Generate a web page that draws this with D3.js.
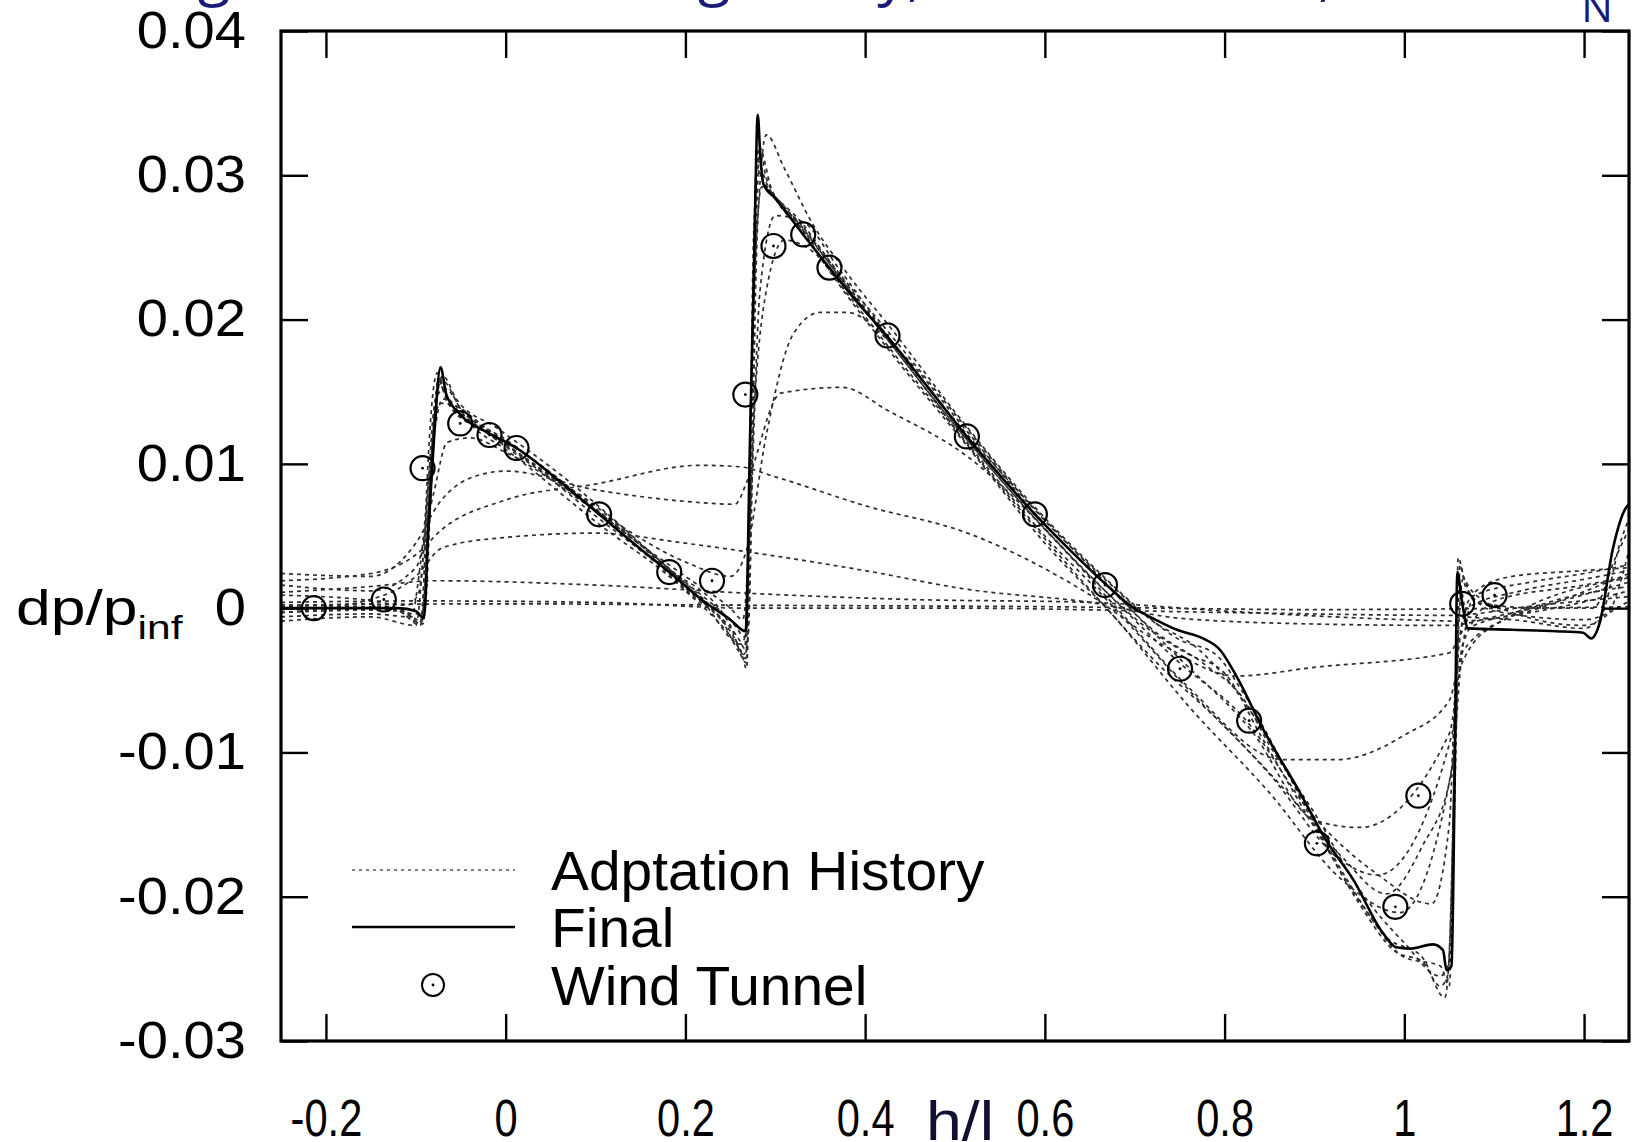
<!DOCTYPE html>
<html>
<head>
<meta charset="utf-8">
<script src="https://cdn.jsdelivr.net/npm/d3@7"></script>
<style>
body { margin: 0; background: #fff; }
svg { display: block; }
</style>
</head>
<body>
<script>
// tick values
var xTicks = [-0.2, 0, 0.2, 0.4, 0.6, 0.8, 1, 1.2];
var yTicks = [-0.03, -0.02, -0.01, 0, 0.01, 0.02, 0.03, 0.04];

// final design signature, [h/l, dp/pinf]
var finalCurve = [
    [-0.25, 0.0], [-0.2, 0.0], [-0.12, 0.0], [-0.1, -0.0002], [-0.091, -0.0007],
    [-0.086, 0.0055], [-0.08, 0.0115], [-0.0725, 0.0167], [-0.066, 0.0148], [-0.05, 0.0134],
    [-0.018, 0.0121], [0.012, 0.0111], [0.06, 0.0088], [0.104, 0.0065], [0.15, 0.0041],
    [0.182, 0.0025], [0.22, 0.0005], [0.25, -0.0008], [0.267, -0.0016], [0.272, 0.012],
    [0.2765, 0.024], [0.2805, 0.0342], [0.2835, 0.0312], [0.2868, 0.0294], [0.30, 0.0284],
    [0.331, 0.0259], [0.36, 0.0236], [0.39, 0.0213], [0.425, 0.0188], [0.47, 0.0153],
    [0.513, 0.0119], [0.55, 0.0092], [0.589, 0.0065], [0.63, 0.0039], [0.667, 0.0017],
    [0.699, 0.0], [0.717, -0.0006], [0.747, -0.0015], [0.776, -0.0021], [0.795, -0.0029],
    [0.813, -0.0047], [0.843, -0.0084], [0.884, -0.0128], [0.913, -0.0161], [0.943, -0.0188],
    [0.976, -0.0225], [0.991, -0.0235], [1.006, -0.0236], [1.032, -0.0233], [1.043, -0.0237],
    [1.047, -0.0251], [1.0525, -0.0248], [1.056, -0.012], [1.059, 0.0025], [1.064, 0.0005],
    [1.071, -0.0014], [1.12, -0.0015], [1.169, -0.0016], [1.199, -0.0017], [1.208, -0.0021],
    [1.2175, -0.001], [1.232, 0.0041], [1.247, 0.0070], [1.25, 0.0072]
];

// wind tunnel measurements
var windTunnel = [
    [-0.2135, 0.0], [-0.1356, 0.0006], [-0.0925, 0.0097], [-0.0506, 0.0128], [-0.018, 0.012],
    [0.0121, 0.0111], [0.104, 0.0065], [0.182, 0.0025], [0.2296, 0.0019], [0.2667, 0.0148],
    [0.298, 0.0251], [0.3311, 0.0259], [0.3603, 0.0236], [0.4249, 0.0189], [0.5132, 0.0119],
    [0.5889, 0.0065], [0.6669, 0.0016], [0.7504, -0.0042], [0.8273, -0.0078], [0.9027, -0.0163],
    [0.99, -0.0207], [1.0156, -0.013], [1.0644, 0.0003], [1.1004, 0.0009]
];

// adaptation history, early to late
var history1 = [[-0.25, 0.0002], [0.0, 0.0003], [0.27, 0.0002], [0.6, 0.0001], [0.9, -0.0001], [1.25, 0.0001]];
var history2 = [[-0.25, 0.0004], [-0.1, 0.0005], [0.1, 0.0004], [0.27, 0.0], [0.5, 0.0], [0.8, -0.0003],
    [1.05, -0.0005], [1.15, 0.0002], [1.25, 0.0008]];
var history3 = [[-0.25, 0.0011], [-0.15, 0.0015], [-0.08, 0.0019], [0.1, 0.0016], [0.28, 0.001],
    [0.45, 0.0006], [0.65, 0.0004], [0.8, -0.0002], [1.0, -0.0008], [1.06, -0.0009], [1.15, -0.0002], [1.25, 0.0012]];
var history4 = [[-0.25, -0.0003], [-0.17, 0.0003], [-0.1, 0.0022], [-0.07, 0.0042], [0.0, 0.0049],
    [0.1, 0.0052], [0.2, 0.0045], [0.28, 0.0038], [0.4, 0.0026], [0.514, 0.0013], [0.65, 0.0004],
    [0.75, -0.0007], [0.9, -0.0011], [1.05, -0.0012], [1.1, -0.0006], [1.25, 0.0018]];
var history5 = [[-0.25, 0.0019], [-0.15, 0.0024], [-0.1, 0.0037], [-0.07, 0.0055], [0.0, 0.0075],
    [0.1, 0.0086], [0.216, 0.0099], [0.26, 0.0098], [0.3, 0.0091], [0.4, 0.0071], [0.514, 0.0052],
    [0.648, 0.001], [0.73, -0.0025], [0.813, -0.0047], [0.9, -0.0041], [1.05, -0.0031], [1.065, -0.0016],
    [1.15, 0.0], [1.25, 0.0024]];
var history6 = [[-0.25, 0.0024], [-0.15, 0.0022], [-0.1, 0.0045], [-0.075, 0.0072], [-0.04, 0.009],
    [0.0, 0.0095], [0.1, 0.0082], [0.2, 0.0074], [0.255, 0.0072], [0.27, 0.009], [0.306, 0.0149],
    [0.375, 0.0153], [0.425, 0.0137], [0.514, 0.0105], [0.6, 0.0055], [0.68, 0.0], [0.76, -0.0055],
    [0.865, -0.0105], [0.925, -0.0105], [1.0, -0.0088], [1.05, -0.0064], [1.065, -0.003], [1.12, -0.0005],
    [1.25, 0.0021]];
var history7 = [[-0.25, 0.0016], [-0.15, 0.0012], [-0.1, 0.0028], [-0.08, 0.008], [-0.065, 0.0115],
    [-0.04, 0.0118], [0.0, 0.0108], [0.1, 0.0068], [0.2, 0.0032], [0.25, 0.0022], [0.268, 0.004],
    [0.29, 0.012], [0.32, 0.019], [0.35, 0.0205], [0.38, 0.0205], [0.43, 0.0183], [0.514, 0.0122],
    [0.6, 0.0058], [0.67, 0.0015], [0.75, -0.0035], [0.83, -0.0085], [0.9, -0.0147], [0.95, -0.0152],
    [1.05, -0.0087], [1.063, -0.004], [1.1, -0.0012], [1.25, 0.0015]];
var history8 = [[-0.25, -0.0006], [-0.15, -0.0004], [-0.105, -0.0006], [-0.095, 0.003], [-0.082, 0.011],
    [-0.07, 0.0145], [-0.05, 0.0135], [0.0, 0.0112], [0.1, 0.0068], [0.2, 0.0018], [0.255, -0.0012],
    [0.266, -0.002], [0.275, 0.012], [0.29, 0.022], [0.31, 0.0255], [0.34, 0.0248], [0.38, 0.0218],
    [0.43, 0.0178], [0.514, 0.0114], [0.6, 0.005], [0.67, 0.0005], [0.75, -0.005], [0.85, -0.0115],
    [0.93, -0.0175], [0.97, -0.0185], [1.054, -0.0085], [1.065, -0.0025], [1.1, 0.0005], [1.2, 0.0016],
    [1.25, 0.0022]];
var history9 = [[-0.25, -0.0009], [-0.15, -0.0006], [-0.1, -0.0012], [-0.09, 0.005], [-0.078, 0.0145],
    [-0.068, 0.0152], [-0.04, 0.0128], [0.0, 0.011], [0.1, 0.006], [0.2, 0.0012], [0.26, -0.0028],
    [0.267, -0.0035], [0.273, 0.015], [0.285, 0.0292], [0.3, 0.0285], [0.33, 0.0262], [0.36, 0.0234],
    [0.43, 0.0176], [0.514, 0.0112], [0.6, 0.0045], [0.68, -0.0008], [0.76, -0.0068], [0.85, -0.0128],
    [0.93, -0.0188], [0.995, -0.0211], [1.054, -0.0107], [1.062, -0.0045], [1.08, 0.0012], [1.12, 0.0022],
    [1.2, 0.0026], [1.25, 0.0028]];
var history10 = [[-0.25, 0.0], [-0.12, -0.0002], [-0.095, -0.0012], [-0.085, 0.006], [-0.075, 0.0158],
    [-0.065, 0.0143], [-0.03, 0.0125], [0.0, 0.0113], [0.1, 0.0064], [0.2, 0.0013], [0.262, -0.003],
    [0.268, -0.0042], [0.275, 0.02], [0.28, 0.031], [0.29, 0.0295], [0.33, 0.0264], [0.36, 0.0239],
    [0.43, 0.0182], [0.514, 0.0116], [0.6, 0.0055], [0.68, 0.0004], [0.75, -0.0038], [0.82, -0.0075],
    [0.9, -0.0145], [0.969, -0.0184], [1.03, -0.0205], [1.05, -0.015], [1.058, -0.004], [1.07, 0.0],
    [1.13, 0.0012], [1.2, 0.002], [1.25, 0.0026]];
var history11 = [[-0.25, 0.0002], [-0.12, 0.0], [-0.093, -0.0009], [-0.088, 0.008], [-0.076, 0.0163],
    [-0.07, 0.0152], [-0.04, 0.0133], [0.0, 0.0114], [0.1, 0.0068], [0.18, 0.0028], [0.25, -0.0012],
    [0.268, -0.0038], [0.276, 0.026], [0.2825, 0.032], [0.29, 0.0298], [0.33, 0.0265], [0.42, 0.0192],
    [0.514, 0.012], [0.59, 0.0068], [0.667, 0.0018], [0.72, -0.0015], [0.78, -0.004], [0.82, -0.0062],
    [0.85, -0.0095], [0.9, -0.0142], [0.95, -0.0195], [1.0, -0.0232], [1.04, -0.0255], [1.05, -0.0245],
    [1.058, -0.008], [1.062, 0.003], [1.068, 0.0015], [1.1, -0.0002], [1.2, -0.0008], [1.25, 0.0005]];
var history12 = [[-0.25, -0.0003], [-0.12, -0.0001], [-0.092, -0.0011], [-0.086, 0.007], [-0.074, 0.0158],
    [-0.06, 0.0138], [-0.02, 0.0122], [0.05, 0.0092], [0.104, 0.0069], [0.2, 0.0014], [0.26, -0.0022],
    [0.266, -0.0028], [0.274, 0.018], [0.279, 0.0305], [0.285, 0.0298], [0.331, 0.0266], [0.36, 0.0241],
    [0.425, 0.0192], [0.514, 0.0124], [0.589, 0.0068], [0.667, 0.002], [0.72, -0.0009], [0.77, -0.0028],
    [0.81, -0.0055], [0.86, -0.0103], [0.9, -0.015], [0.95, -0.0205], [0.99, -0.0238], [1.02, -0.0245],
    [1.04, -0.0262], [1.048, -0.0255], [1.056, -0.01], [1.06, 0.0035], [1.066, 0.0022], [1.08, 0.0004],
    [1.15, 0.0], [1.21, 0.0], [1.235, 0.0035], [1.25, 0.0055]];
var history13 = [[-0.25, 0.0001], [-0.15, 0.0003], [-0.1, -0.0004], [-0.09, 0.0], [-0.08, 0.0125],
    [-0.07, 0.0161], [-0.055, 0.0145], [-0.01, 0.0125], [0.06, 0.0093], [0.15, 0.0045], [0.22, 0.0004],
    [0.262, -0.0025], [0.27, -0.0006], [0.28, 0.026], [0.29, 0.0328], [0.31, 0.0305], [0.34, 0.0268],
    [0.38, 0.0232], [0.43, 0.0193], [0.5, 0.0136], [0.58, 0.0076], [0.66, 0.0025], [0.7, 0.0002],
    [0.75, -0.0022], [0.79, -0.0032], [0.82, -0.0058], [0.88, -0.0125], [0.94, -0.0192], [0.98, -0.0228],
    [1.02, -0.0242], [1.045, -0.027], [1.05, -0.024], [1.058, -0.005], [1.065, 0.002], [1.075, 0.0012],
    [1.12, -0.0003], [1.2, -0.0012], [1.225, -0.0005], [1.25, 0.004]];
var history14 = [[-0.25, -0.0001], [-0.13, 0.0001], [-0.095, -0.001], [-0.089, 0.004], [-0.079, 0.0135],
    [-0.071, 0.0158], [-0.05, 0.0138], [0.0, 0.0117], [0.104, 0.0067], [0.182, 0.0027], [0.24, -0.0008],
    [0.265, -0.0032], [0.27, -0.0018], [0.277, 0.022], [0.283, 0.0318], [0.295, 0.0292], [0.331, 0.0262],
    [0.36, 0.0239], [0.425, 0.0186], [0.513, 0.0117], [0.589, 0.0062], [0.667, 0.0012], [0.71, -0.0012],
    [0.76, -0.0032], [0.8, -0.0045], [0.84, -0.0088], [0.9, -0.0152], [0.96, -0.0212], [1.0, -0.0242],
    [1.04, -0.0248], [1.05, -0.0262], [1.057, -0.006], [1.061, 0.0018], [1.07, -0.0006], [1.12, -0.0008],
    [1.2, -0.0014], [1.22, -0.0004], [1.24, 0.0045], [1.25, 0.0062]];
var history15 = [[-0.25, 0.0009], [-0.16, 0.0006], [-0.11, 0.0002], [-0.097, 0.001], [-0.085, 0.009],
    [-0.074, 0.0142], [-0.06, 0.0141], [-0.02, 0.0124], [0.05, 0.0094], [0.12, 0.0058], [0.2, 0.0022],
    [0.25, 0.0], [0.264, -0.0008], [0.272, 0.006], [0.283, 0.022], [0.3, 0.0272], [0.33, 0.0268],
    [0.37, 0.0236], [0.43, 0.0184], [0.514, 0.0113], [0.6, 0.0048], [0.66, 0.0006], [0.72, -0.0035],
    [0.8, -0.0082], [0.87, -0.0128], [0.93, -0.0172], [0.98, -0.0198], [1.02, -0.0165], [1.052, -0.0115],
    [1.06, -0.003], [1.075, 0.0008], [1.14, 0.0018], [1.2, 0.0024], [1.25, 0.003]];
var historyRuns = [history1, history2, history3, history4, history5, history6, history7,
    history8, history9, history10, history11, history12, history13, history14, history15];

var legendLabels = ['Adptation History', 'Final', 'Wind Tunnel'];

// clipped title fragments above the plot
var titleBits = [
    { t: 'g', x: 214 }, { t: 'g', x: 714 }, { t: 'y,', x: 900 }, { t: ',', x: 1326 }
];

var W = 1639, H = 1142;
var svg = d3.select('body').append('svg')
    .attr('width', W).attr('height', H)
    .style('font-family', '"Liberation Sans", Arial, sans-serif');

var x = d3.scaleLinear().domain([-0.25, 1.25]).range([281, 1629]);
var y = d3.scaleLinear().domain([-0.03, 0.04]).range([1041, 31]);

var line = d3.line()
    .x(function (d) { return x(d[0]); })
    .y(function (d) { return y(d[1]); })
    .curve(d3.curveMonotoneX);

// title remnants (navy)
svg.append('g').selectAll('text')
    .data(titleBits).enter().append('text')
    .attr('x', function (d) { return d.x; })
    .attr('y', -6)
    .attr('text-anchor', 'middle')
    .attr('fill', '#1a1a78')
    .style('font-family', '"Open Sans", sans-serif')
    .style('font-size', '60px')
    .text(function (d) { return d.t; });
svg.append('text')
    .attr('x', 1597).attr('y', 22)
    .attr('text-anchor', 'middle')
    .attr('fill', '#1a1a78')
    .style('font-family', '"Open Sans", sans-serif')
    .style('font-size', '42px')
    .text('N');

svg.append('clipPath').attr('id', 'plot-clip')
    .append('rect')
    .attr('x', 281).attr('y', 31)
    .attr('width', 1629 - 281).attr('height', 1041 - 31);

var plot = svg.append('g').attr('clip-path', 'url(#plot-clip)');

// adaptation history, dotted
plot.selectAll('.hist')
    .data(historyRuns).enter().append('path')
    .attr('class', 'hist')
    .attr('d', line)
    .attr('fill', 'none')
    .attr('stroke', '#2e2e2e')
    .attr('stroke-width', 1.7)
    .attr('stroke-dasharray', '4,4');

// final signature
plot.append('path')
    .attr('d', line(finalCurve))
    .attr('fill', 'none')
    .attr('stroke', '#000')
    .attr('stroke-width', 2.6);

// wind tunnel points
var pts = plot.selectAll('.wt')
    .data(windTunnel).enter().append('g')
    .attr('class', 'wt')
    .attr('transform', function (d) { return 'translate(' + x(d[0]) + ',' + y(d[1]) + ')'; });
pts.append('circle').attr('r', 12).attr('fill', 'none').attr('stroke', '#000').attr('stroke-width', 2.2);
pts.append('circle').attr('r', 1.4).attr('fill', '#000');

// axes, ticks pointing inward
var tickLen = 27;
var fmt = function (d) { return String(d); };

var gx = svg.append('g').attr('transform', 'translate(0,1041)')
    .call(d3.axisBottom(x).tickValues(xTicks).tickSize(-tickLen).tickPadding(58).tickFormat(fmt));
gx.selectAll('text')
    .attr('transform', 'scale(0.8,1)')
    .style('font-size', '52px')
    .attr('fill', '#000');

svg.append('g').attr('transform', 'translate(0,31)')
    .call(d3.axisTop(x).tickValues(xTicks).tickSize(-tickLen).tickFormat(''));

var gy = svg.append('g').attr('transform', 'translate(281,0)')
    .call(d3.axisLeft(y).tickValues(yTicks).tickSize(-tickLen).tickPadding(0).tickFormat(fmt));
gy.selectAll('text')
    .attr('x', 0)
    .attr('transform', 'translate(-35,0) scale(1.1,1)')
    .style('font-size', '51px')
    .attr('fill', '#000');

svg.append('g').attr('transform', 'translate(1629,0)')
    .call(d3.axisRight(y).tickValues(yTicks).tickSize(-tickLen).tickFormat(''));

svg.selectAll('.domain').remove();
svg.selectAll('.tick line').attr('stroke', '#000').attr('stroke-width', 2.4);

// frame
svg.append('rect')
    .attr('x', 281).attr('y', 31)
    .attr('width', 1629 - 281).attr('height', 1041 - 31)
    .attr('fill', 'none').attr('stroke', '#000').attr('stroke-width', 3.2);

// axis titles
var yl = svg.append('text')
    .attr('transform', 'translate(16,625) scale(1.25,1)')
    .attr('fill', '#000')
    .style('font-size', '50px');
yl.append('tspan').text('dp/p');
yl.append('tspan').attr('dy', 14).style('font-size', '34px').text('inf');

svg.append('text')
    .attr('transform', 'translate(960,1140) scale(1.15,1)')
    .attr('text-anchor', 'middle')
    .attr('fill', '#101030')
    .style('font-size', '56px')
    .text('h/l');

// legend
var leg = svg.append('g');
var rows = [870, 927, 985];
leg.append('line').attr('x1', 352).attr('x2', 515).attr('y1', rows[0]).attr('y2', rows[0])
    .attr('stroke', '#555').attr('stroke-width', 1.6).attr('stroke-dasharray', '3,4');
leg.append('line').attr('x1', 352).attr('x2', 515).attr('y1', rows[1]).attr('y2', rows[1])
    .attr('stroke', '#000').attr('stroke-width', 2.4);
leg.append('circle').attr('cx', 433).attr('cy', rows[2]).attr('r', 11)
    .attr('fill', 'none').attr('stroke', '#000').attr('stroke-width', 2);
leg.append('circle').attr('cx', 433).attr('cy', rows[2]).attr('r', 1.4).attr('fill', '#000');
leg.selectAll('.lt')
    .data(legendLabels).enter().append('text')
    .attr('class', 'lt')
    .attr('transform', function (d, i) { return 'translate(551,' + (rows[i] + 20) + ') scale(1.035,1)'; })
    .attr('fill', '#000')
    .style('font-size', '55px')
    .text(function (d) { return d; });
</script>
</body>
</html>
